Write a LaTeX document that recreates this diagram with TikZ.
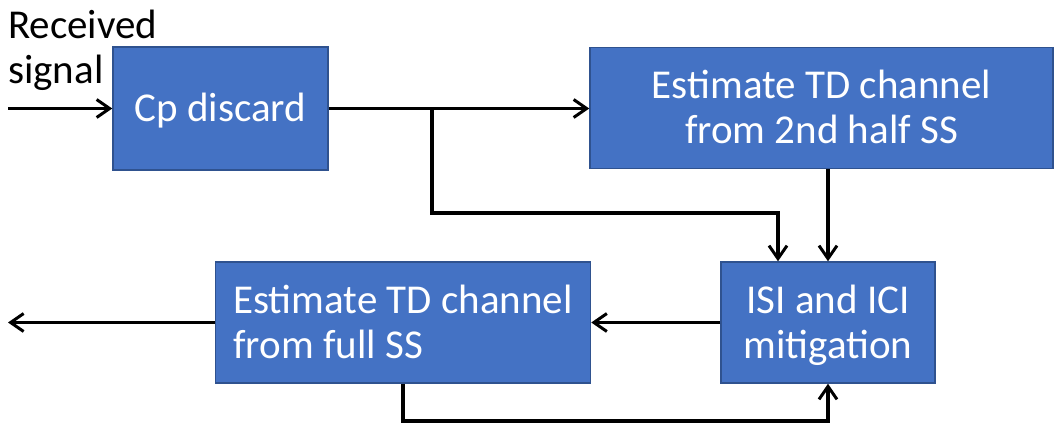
\documentclass[tikz,border=0pt]{standalone}
\usepackage{fontspec}
\setmainfont{Carlito}
\usetikzlibrary{arrows.meta}
\definecolor{boxfill}{HTML}{4472C4}
\definecolor{boxline}{HTML}{2F528F}
\begin{document}
\begin{tikzpicture}[x=1pt,y=-1pt,
  blk/.style={draw=boxline, line width=1.5pt, fill=boxfill, text=white,
    font=\fontsize{41}{45}\selectfont, inner sep=0pt, minimum height=121pt},
  one/.style={text height=26.4pt, text depth=0pt},
  two/.style={text height=71.4pt, text depth=0pt},
  conn/.style={line width=3.2pt, line join=miter},
  arr/.style={conn, -{Straight Barb[length=13pt,width=18pt,line width=3pt]}}]
\useasboundingbox (0,0) rectangle (1056,423);
\node[blk, one, minimum width=215pt, minimum height=123pt, align=center] (cp) at (220.5,108.5) {Cp discard};
\node[blk, two, minimum width=463pt, align=center] (est2) at (821.5,108) {Estimate TD channel\\from 2nd half SS};
\node[blk, two, minimum width=214pt, align=center] (isi) at (828,322.5) {ISI and ICI\\mitigation};
\node[blk, two, minimum width=375pt, align=left] (full) at (403,322.5) {Estimate TD channel\\from full SS};
\node[font=\fontsize{41}{45}\selectfont, align=left, anchor=base west, inner sep=0pt] (lbl) at (8,83) {Received\\signal};
\coordinate (in) at (8,108.5);
\coordinate (out) at (8,322.5);
\coordinate (br) at (432,108.5);
\coordinate (brd) at (432,213);
\coordinate (brr) at (778,213);
\coordinate (bl) at (403,421);
\draw[arr] (in) -- (cp.west);
\draw[arr] (cp.east) -- (cp.east -| est2.west);
\draw[arr] (br) -- (brd) -- (brr) -- (brr |- isi.north);
\draw[arr] (est2.south -| isi.north) -- (isi.north);
\draw[arr] (isi.west) -- (full.east);
\draw[arr] (full.west) -- (out);
\draw[arr] (full.south) -- (bl) -- (bl -| isi.south) -- (isi.south);
\end{tikzpicture}
\end{document}
